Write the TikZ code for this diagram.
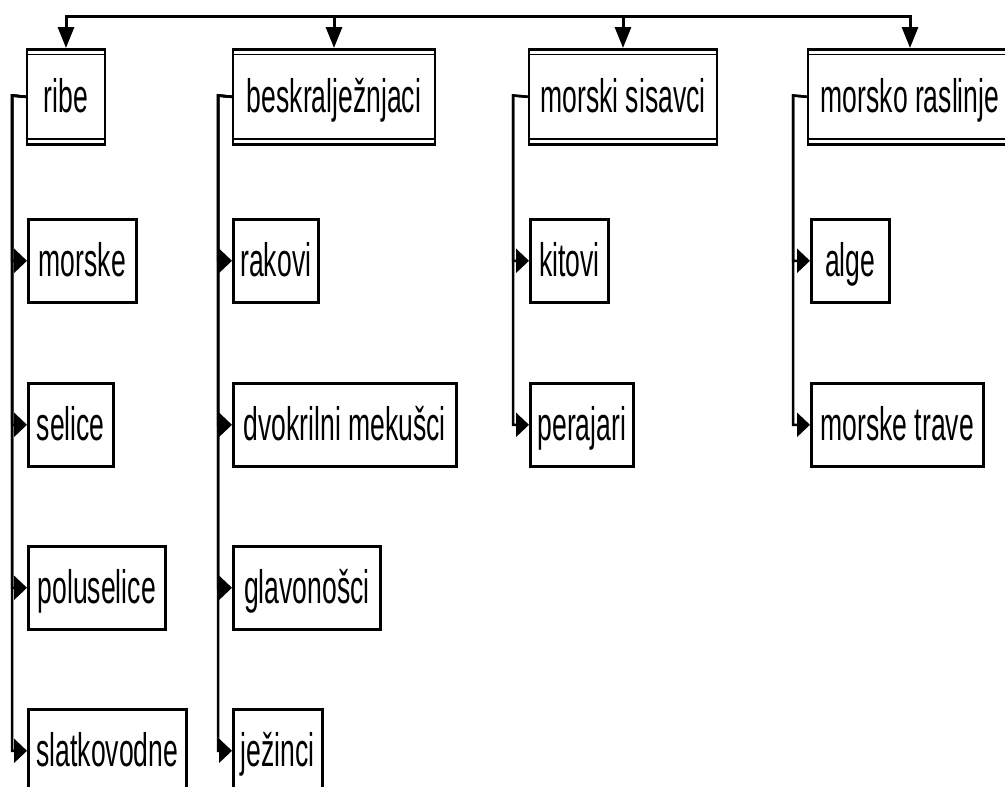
\documentclass[tikz,border=0pt]{standalone}
\usepackage{fontspec}
\setmainfont{Liberation Sans}[FakeStretch=0.565]
\usetikzlibrary{arrows.meta}

\tikzset{
  box/.style={draw, line width=2.6pt, inner xsep=3pt, minimum height=83pt,
    text height=34pt, text depth=3pt, font=\fontsize{47pt}{50pt}\selectfont},
  group/.style={box, minimum height=95pt, anchor=north},
  item/.style={box, anchor=north west},
  branch/.style={line width=2.5pt, -{Triangle[length=13pt,width=24pt]}},
  down/.style={line width=3pt, -{Triangle[length=21pt,width=16pt]}},
}

\begin{document}
\begin{tikzpicture}[x=1pt, y=-1pt]
  \useasboundingbox (0,0) rectangle (1005,787);

  % groups
  \node[group, minimum width=78pt] (ribe) at (66,48) {ribe};
  \node[group, minimum width=202pt] (beskr) at (334,48) {beskralježnjaci};
  \node[group, minimum width=188pt] (sisavci) at (623,48) {morski sisavci};
  \node[group, minimum width=204pt] (raslinje) at (910,48) {morsko raslinje};
  \foreach \g in {ribe,beskr,sisavci,raslinje}
    \draw[line width=1.8pt] ([yshift=-6.5pt]\g.north west) -- ([yshift=-6.5pt]\g.north east)
      ([yshift=6.5pt]\g.south west) -- ([yshift=6.5pt]\g.south east);

  % items
  \node[item, minimum width=108pt] (morske) at (27,218) {morske};
  \node[item, minimum width=85pt] (selice) at (27,382) {selice};
  \node[item, minimum width=137pt] (poluselice) at (27,545) {poluselice};
  \node[item, minimum width=158pt] (slatkovodne) at (27,708) {slatkovodne};
  \node[item, minimum width=85pt] (rakovi) at (232,218) {rakovi};
  \node[item, minimum width=223pt] (mekusci) at (232,382) {dvokrilni mekušci};
  \node[item, minimum width=147pt] (glavonosci) at (232,545) {glavonošci};
  \node[item, minimum width=89pt] (jezinci) at (232,708) {ježinci};
  \node[item, minimum width=78pt] (kitovi) at (529,218) {kitovi};
  \node[item, minimum width=103pt] (perajari) at (529,382) {perajari};
  \node[item, minimum width=78pt] (alge) at (810,218) {alge};
  \node[item, minimum width=172pt] (trave) at (810,382) {morske trave};

  % top line
  \coordinate (vrh) at (0,16.5);
  \draw[line width=3pt, line cap=rect] (ribe.north |- vrh) -- (raslinje.north |- vrh);
  \foreach \g in {ribe,beskr,sisavci,raslinje}
    \draw[down] (\g.north |- vrh) -- (\g.north);

  % branches
  \foreach \g/\x in {ribe/12, beskr/218, sisavci/513, raslinje/793}
    \coordinate (\g-c) at (\x,95.5);
  \foreach \g/\c in {ribe/morske, ribe/selice, ribe/poluselice, ribe/slatkovodne,
      beskr/rakovi, beskr/mekusci, beskr/glavonosci, beskr/jezinci,
      sisavci/kitovi, sisavci/perajari, raslinje/alge, raslinje/trave}
    \draw[branch] (\g.west) -- (\g-c) |- (\c.west);
\end{tikzpicture}
\end{document}
